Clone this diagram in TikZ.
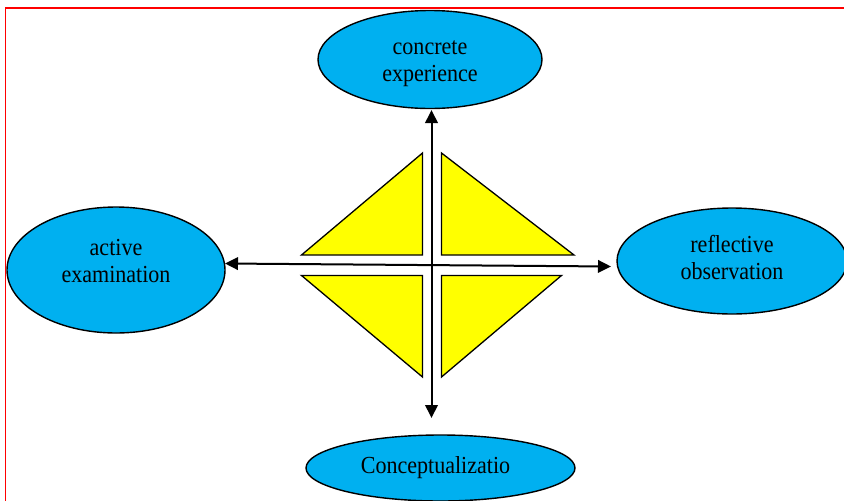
\documentclass[tikz,border=0pt]{standalone}
\usepackage{fontspec}
\setmainfont[FakeStretch=0.9]{Liberation Serif}
\usetikzlibrary{shapes.geometric,arrows.meta}
\definecolor{bubble}{HTML}{00B0F0}
\definecolor{tri}{HTML}{FFFF00}
\newcommand{\twoline}[3]{\raisebox{#1}[0pt][0pt]{\begin{tabular}{@{}c@{}}#2\\#3\end{tabular}}}
\begin{document}
\begin{tikzpicture}[x=1pt,y=-1pt,
  bubble/.style={ellipse,draw=black,line width=1.4pt,fill=bubble,inner sep=0pt,
    align=center,font=\fontsize{24.5}{27}\selectfont},
  axis/.style={line width=2pt,{Triangle[length=13pt,width=12.5pt]}-{Triangle[length=13pt,width=12.5pt]}},
  tripiece/.style={draw=black,fill=tri,line width=1.3pt,line join=miter}]
\useasboundingbox (0,0) rectangle (844,501);
\fill[white] (0,0) rectangle (844,501);
\draw[red,line width=1.6pt] (5.5,8) rectangle (852,512);
% nodes
\node[bubble,minimum width=224pt,minimum height=98pt] (ce) at (430,59.5) {\twoline{-9pt}{concrete}{experience}};
\node[bubble,minimum width=218pt,minimum height=126pt] (ae) at (116,270) {\twoline{0pt}{active}{examination}};
\node[bubble,minimum width=230pt,minimum height=106pt] (ro) at (732,261) {\twoline{-5.5pt}{reflective}{observation}};
\node[bubble,minimum width=269pt,minimum height=66pt] (co) at (440.5,468) {\hspace*{-10pt}Conceptualizatio};
% triangles
\draw[tripiece] (422.5,153) -- (422.5,255) -- (301.5,255) -- cycle;
\draw[tripiece] (441.5,153) -- (441.5,255) -- (574,255) -- cycle;
\draw[tripiece] (301.5,275.5) -- (422.5,275.5) -- (422.5,377) -- cycle;
\draw[tripiece] (441.5,275.5) -- (561.5,275.5) -- (441.5,377) -- cycle;
% axes
\coordinate (hl) at (225,263.5);
\coordinate (hr) at (611,266.5);
\coordinate (vt) at (431.5,110);
\coordinate (vb) at (431.5,418);
\draw[axis] (hl) -- (hr);
\draw[axis] (vt) -- (vb);
\end{tikzpicture}
\end{document}
